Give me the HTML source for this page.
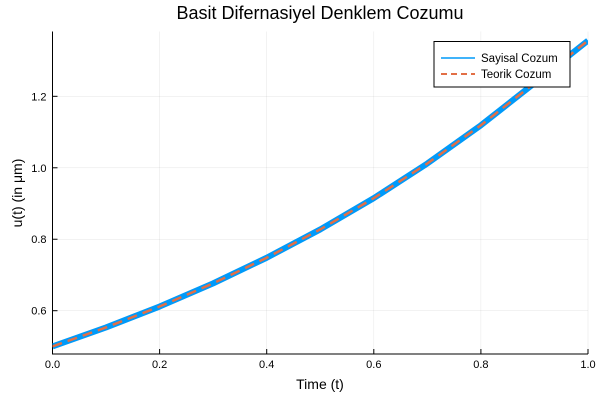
<!DOCTYPE html>
<html><head><meta charset="utf-8"><style>
body{margin:0;background:#fff;}
svg{display:block;font-family:"Liberation Sans","DejaVu Sans",sans-serif;}
</style></head><body>
<svg id="c" width="600" height="400"></svg>
<script>
const tVals=[0,0.1,0.2,0.3,0.4,0.5,0.6,0.7,0.8,0.9,1.0];
const numVals=[0.5,0.5531,0.6117,0.6765,0.7482,0.8275,0.9150,1.0120,1.1190,1.2370,1.3560];
const exactVals=[0.5,0.5531,0.6117,0.6765,0.7482,0.8275,0.9150,1.0120,1.1190,1.2370,1.3560];
const xTicks=[0,0.2,0.4,0.6,0.8,1.0];
const xTickLabels=["0.0","0.2","0.4","0.6","0.8","1.0"];
const yTicks=[0.6,0.8,1.0,1.2];
const yTickLabels=["0.6","0.8","1.0","1.2"];
const NS="http://www.w3.org/2000/svg";
const svg=document.getElementById('c');
const X0=52.5,X1=588,YT=31.5,YB=354;
const sx=v=>X0+(v-0)*(X1-X0);
const sy=v=>310.7-(v-0.6)*357.3;
function mk(tag,attrs,parent){const e=document.createElementNS(NS,tag);for(const k in attrs)e.setAttribute(k,attrs[k]);(parent||svg).appendChild(e);return e;}
xTicks.forEach((t,i)=>{
 const g=mk('line',{x1:sx(t),x2:sx(t),y1:YT,y2:YB,stroke:'#000','stroke-opacity':0.1,'stroke-width':0.5});
 
 
 const tk=mk('line',{x1:sx(t),x2:sx(t),y1:YB,y2:YB-5,stroke:'#000','stroke-width':1});
 
 
 const lb=mk('text',{x:sx(t),y:YB+14,'text-anchor':'middle','font-size':11,fill:'#000'});
 lb.textContent=xTickLabels[i];
 
 
});
yTicks.forEach((v,i)=>{
 const g=mk('line',{x1:X0,x2:X1,y1:sy(v),y2:sy(v),stroke:'#000','stroke-opacity':0.1,'stroke-width':0.5});
 
 
 const tk=mk('line',{x1:X0,x2:X0+5,y1:sy(v),y2:sy(v),stroke:'#000','stroke-width':1});
 
 
 const lb=mk('text',{x:X0-6,y:sy(v)+4,'text-anchor':'end','font-size':11,fill:'#000'});
 lb.textContent=yTickLabels[i];
 
 
});
const ax=mk('path',{d:`M${X0},${YT}V${YB}H${X1}`,fill:'none',stroke:'#000','stroke-width':1});


const clip=mk('clipPath',{id:'clp'});mk('rect',{x:X0,y:YT,width:X1-X0,height:YB-YT},clip);
const pts=(vals)=>tVals.map((t,i)=>`${sx(t)},${sy(vals[i])}`).join(' ');
const s1=mk('polyline',{points:pts(numVals),fill:'none',stroke:'#009af9','stroke-width':6,'stroke-linejoin':'round','clip-path':'url(#clp)'});


const s2=mk('polyline',{points:pts(exactVals),fill:'none',stroke:'#e26f46','stroke-width':2.5,'stroke-dasharray':'10 6','clip-path':'url(#clp)'});


</script>
<svg x="0" y="0" width="600" height="400" style="position:absolute;left:0;top:0">
<text x="320" y="19" text-anchor="middle" font-size="18" font-family="Liberation Sans, sans-serif">Basit Difernasiyel Denklem Cozumu</text>
<text x="320" y="389" text-anchor="middle" font-size="14" font-family="Liberation Sans, sans-serif">Time (t)</text>
<text x="22" y="193" text-anchor="middle" font-size="14" font-family="Liberation Sans, sans-serif" transform="rotate(-90 22 193)">u(t) (in μm)</text>
<g>
<rect x="434" y="41.5" width="136" height="45.5" fill="#fff" stroke="#000" stroke-width="1"/>
<line x1="441" x2="475" y1="58" y2="58" stroke="#009af9" stroke-width="1.5"/>
<text x="481" y="62" font-size="11.5" font-family="Liberation Sans, sans-serif">Sayisal Cozum</text>
<line x1="441" x2="475" y1="74" y2="74" stroke="#e26f46" stroke-width="2" stroke-dasharray="6 4"/>
<text x="481" y="78" font-size="11.5" font-family="Liberation Sans, sans-serif">Teorik Cozum</text>
</g>
</svg>
</body></html>
